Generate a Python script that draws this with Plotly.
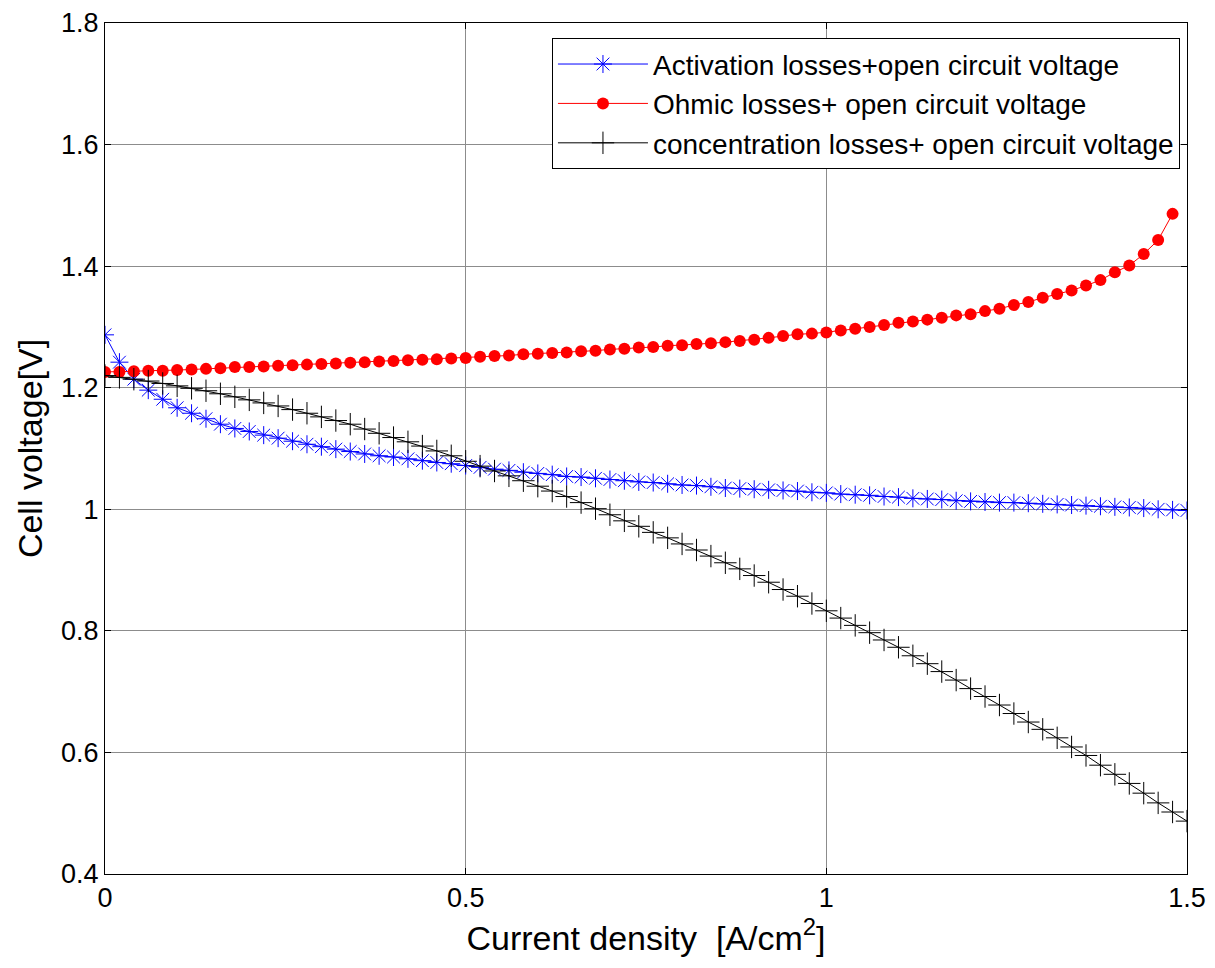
import plotly.graph_objects as go

# Current density [A/cm^2]
i_act = [round(0.02 * k, 2) for k in range(76)]
i_ohm = [round(0.02 * k, 2) for k in range(75)]
i_conc = [round(0.02 * k, 2) for k in range(76)]

v_act = [1.287, 1.242, 1.214, 1.196, 1.181, 1.167, 1.158, 1.149, 1.140, 1.133,
         1.128, 1.122, 1.117, 1.112, 1.107, 1.103, 1.099, 1.095, 1.091, 1.088,
         1.086, 1.083, 1.080, 1.077, 1.075, 1.072, 1.069, 1.066, 1.064, 1.061,
         1.059, 1.057, 1.054, 1.053, 1.051, 1.049, 1.047, 1.045, 1.044, 1.042,
         1.040, 1.039, 1.037, 1.035, 1.034, 1.033, 1.032, 1.031, 1.030, 1.028,
         1.027, 1.025, 1.024, 1.023, 1.021, 1.020, 1.018, 1.017, 1.016, 1.014,
         1.013, 1.012, 1.011, 1.011, 1.010, 1.009, 1.008, 1.007, 1.006, 1.005,
         1.004, 1.003, 1.002, 1.000, 0.999, 0.998]

v_ohm = [1.226, 1.226, 1.227, 1.228, 1.228, 1.229, 1.230, 1.231, 1.232, 1.234,
         1.234, 1.235, 1.236, 1.237, 1.238, 1.239, 1.240, 1.241, 1.242, 1.243,
         1.244, 1.245, 1.246, 1.247, 1.248, 1.249, 1.251, 1.252, 1.253, 1.255,
         1.256, 1.257, 1.258, 1.260, 1.261, 1.263, 1.264, 1.266, 1.267, 1.269,
         1.270, 1.272, 1.273, 1.275, 1.277, 1.279, 1.282, 1.285, 1.288, 1.289,
         1.291, 1.294, 1.297, 1.300, 1.303, 1.307, 1.309, 1.312, 1.315, 1.319,
         1.321, 1.326, 1.330, 1.336, 1.341, 1.348, 1.354, 1.360, 1.368, 1.377,
         1.390, 1.401, 1.420, 1.443, 1.486]

v_conc = [1.220, 1.217, 1.214, 1.211, 1.207, 1.203, 1.199, 1.195, 1.190, 1.185,
          1.180, 1.175, 1.170, 1.164, 1.158, 1.152, 1.146, 1.140, 1.132, 1.125,
          1.118, 1.111, 1.104, 1.096, 1.088, 1.079, 1.071, 1.063, 1.055, 1.047,
          1.038, 1.030, 1.021, 1.011, 1.001, 0.991, 0.981, 0.972, 0.962, 0.953,
          0.943, 0.933, 0.923, 0.912, 0.902, 0.891, 0.880, 0.868, 0.857, 0.845,
          0.833, 0.821, 0.809, 0.797, 0.785, 0.773, 0.759, 0.746, 0.733, 0.719,
          0.705, 0.692, 0.678, 0.664, 0.650, 0.638, 0.624, 0.609, 0.595, 0.579,
          0.564, 0.549, 0.533, 0.517, 0.502, 0.487]

x_ticks = [0, 0.5, 1, 1.5]
x_tick_text = ["0", "0.5", "1", "1.5"]
y_ticks = [0.4, 0.6, 0.8, 1.0, 1.2, 1.4, 1.6, 1.8]
y_tick_text = ["0.4", "0.6", "0.8", "1", "1.2", "1.4", "1.6", "1.8"]

FONT = "Liberation Sans, Arial, sans-serif"

fig = go.Figure()
fig.add_trace(go.Scatter(
    x=i_act, y=v_act, mode="lines+markers",
    name="Activation losses+open circuit voltage",
    line=dict(color="#0000FF", width=1),
    marker=dict(symbol="asterisk", size=15, color="#0000FF",
                line=dict(color="#0000FF", width=1)),
))
fig.add_trace(go.Scatter(
    x=i_ohm, y=v_ohm, mode="lines+markers",
    name="Ohmic losses+ open circuit voltage",
    line=dict(color="#FF0000", width=1),
    marker=dict(symbol="circle", size=12, color="#FF0000",
                line=dict(width=0)),
))
fig.add_trace(go.Scatter(
    x=i_conc, y=v_conc, mode="lines+markers",
    name="concentration losses+ open circuit voltage",
    line=dict(color="#000000", width=1),
    marker=dict(symbol="cross-thin", size=16, color="#000000",
                line=dict(color="#000000", width=1)),
))

fig.update_layout(
    width=1215, height=968,
    paper_bgcolor="white", plot_bgcolor="white",
    margin=dict(l=97, r=36, t=15, b=102, autoexpand=False),
    font=dict(family=FONT, size=27, color="black"),
    showlegend=True,
    legend=dict(
        x=0.9935, y=0.982, xanchor="right", yanchor="top",
        bgcolor="white", bordercolor="black", borderwidth=1,
        font=dict(family=FONT, size=28, color="black"),
        itemwidth=90, tracegroupgap=0,
    ),
)
fig.update_xaxes(
    range=[0, 1.5], tickvals=x_ticks, ticktext=x_tick_text,
    showgrid=True, gridcolor="#8c8c8c", gridwidth=1,
    showline=True, linecolor="black", linewidth=1, mirror="ticks",
    ticks="inside", ticklen=6, tickcolor="black",
    zeroline=False, automargin=False, ticklabeloverflow="allow",
    tickfont=dict(family=FONT, size=27),
    title=dict(text="Current density  [A/cm<sup>2</sup>]",
               font=dict(family=FONT, size=34), standoff=8),
)
fig.update_yaxes(
    range=[0.4, 1.8], tickvals=y_ticks, ticktext=y_tick_text,
    showgrid=True, gridcolor="#8c8c8c", gridwidth=1,
    showline=True, linecolor="black", linewidth=1, mirror="ticks",
    ticks="inside", ticklen=6, tickcolor="black",
    zeroline=False, automargin=False, ticklabeloverflow="allow",
    tickfont=dict(family=FONT, size=27),
    title=dict(text="Cell voltage[V]",
               font=dict(family=FONT, size=34), standoff=8),
)

fig.write_html("out.html")
